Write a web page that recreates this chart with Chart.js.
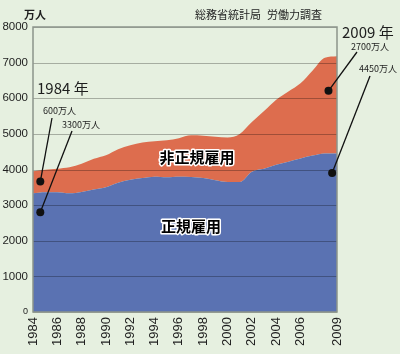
<!DOCTYPE html>
<html>
<head>
<meta charset="utf-8">
<script src="https://cdn.jsdelivr.net/npm/chart.js@4/dist/chart.umd.min.js"></script>
<style>
  html, body { margin: 0; padding: 0; background: #e6f0e0; }
  #wrap { width: 400px; height: 354px; }
</style>
</head>
<body>
<div id="wrap"><canvas id="chart" width="400" height="354"></canvas></div>
<script>
// 労働力調査: 正規 / 非正規 雇用者数 (万人)
const years = [1984, 1985, 1986, 1987, 1988, 1989, 1990, 1991, 1992, 1993, 1994, 1995, 1996,
               1997, 1998, 1999, 2000, 2001, 2002, 2003, 2004, 2005, 2006, 2007, 2008, 2009];
const regular = [3330, 3360, 3360, 3330, 3370, 3440, 3500, 3630, 3710, 3760, 3800, 3780, 3800,
                 3790, 3760, 3700, 3650, 3650, 3940, 4020, 4130, 4220, 4310, 4390, 4450, 4450];
const nonRegular = [620, 630, 660, 730, 790, 860, 900, 940, 970, 1000, 990, 1040, 1080,
                    1170, 1190, 1220, 1250, 1350, 1390, 1620, 1830, 1970, 2110, 2390, 2690, 2730];
const xTickYears = [1984, 1986, 1988, 1990, 1992, 1994, 1996, 1998, 2000, 2002, 2004, 2006, 2009];
const seriesNames = ['正規雇用', '非正規雇用'];

const C = {
    blue: '#5a72b2',
    orange: '#dd6d4e',
    frame: '#8c948a',
    grid: 'rgba(0,0,0,0.28)',
    text: '#1e1e1e',
    fontLatin: "'Liberation Sans', Arial, sans-serif",
    fontJp: "'Noto Sans CJK JP', sans-serif"
};

const toPoints = arr => arr.map((v, i) => ({ x: years[i], y: v }));

// grid lines over the areas + frame
const overlayPlugin = {
    id: 'overlay',
    afterDatasetsDraw(chart) {
        const { ctx, chartArea: a, scales: { y } } = chart;
        ctx.save();
        ctx.strokeStyle = C.grid;
        ctx.lineWidth = 1;
        y.ticks.forEach(t => {
            const py = Math.round(y.getPixelForValue(t.value)) + 0.5;
            ctx.beginPath();
            ctx.moveTo(a.left, py);
            ctx.lineTo(a.right, py);
            ctx.stroke();
        });
        ctx.strokeStyle = C.frame;
        ctx.lineWidth = 1.5;
        ctx.strokeRect(a.left, a.top, a.right - a.left, a.bottom - a.top);
        ctx.restore();
    },
    afterDraw(chart) {
        const { ctx, scales: { x, y } } = chart;
        ctx.save();
        ctx.fillStyle = C.text;
        ctx.textBaseline = 'middle';

        ctx.font = 'bold 11px ' + C.fontJp;
        ctx.fillText('万人', 24, 15);
        ctx.font = '11px ' + C.fontJp;
        ctx.fillText('総務省統計局', 195, 15);
        ctx.fillText('労働力調査', 267, 15);

        ctx.font = '15px ' + C.fontJp;
        ctx.fillText('1984 年', 37, 88);
        ctx.fillText('2009 年', 342, 32);

        ctx.font = '9px ' + C.fontJp;
        ctx.fillText('600万人', 43, 111);
        ctx.fillText('3300万人', 62, 125);
        ctx.fillText('2700万人', 351, 47);
        ctx.fillText('4450万人', 359, 69);

        // pointer lines and dots, placed through the chart scales
        const pointers = [
            { yr: 1984.6, val: 3660, to: [52, 118] },
            { yr: 1984.6, val: 2800, to: [72, 131] },
            { yr: 2008.3, val: 6210, to: [357, 52] },
            { yr: 2008.6, val: 3900, to: [370, 76] }
        ];
        ctx.strokeStyle = '#111';
        ctx.lineWidth = 1.3;
        pointers.forEach(p => {
            const px = x.getPixelForValue(p.yr);
            const py = y.getPixelForValue(p.val);
            ctx.beginPath();
            ctx.moveTo(px, py);
            ctx.lineTo(p.to[0], p.to[1]);
            ctx.stroke();
            ctx.beginPath();
            ctx.arc(px, py, 4, 0, Math.PI * 2);
            ctx.fillStyle = '#111';
            ctx.fill();
        });

        // haloed labels inside the areas
        ctx.font = 'bold 15px ' + C.fontJp;
        ctx.textAlign = 'center';
        ctx.lineJoin = 'round';
        ctx.lineWidth = 3;
        ctx.strokeStyle = '#ffffff';
        ctx.fillStyle = '#000';
        ctx.strokeText(seriesNames[1], 197, 157);
        ctx.fillText(seriesNames[1], 197, 157);
        ctx.strokeText(seriesNames[0], 191, 226);
        ctx.fillText(seriesNames[0], 191, 226);
        ctx.restore();
    }
};

new Chart(document.getElementById('chart'), {
    type: 'line',
    data: {
        datasets: [
            {
                label: seriesNames[0],
                data: toPoints(regular),
                backgroundColor: C.blue,
                borderWidth: 0,
                pointRadius: 0,
                fill: 'origin',
                cubicInterpolationMode: 'monotone'
            },
            {
                label: seriesNames[1],
                data: toPoints(nonRegular),
                backgroundColor: C.orange,
                borderWidth: 0,
                pointRadius: 0,
                fill: '-1',
                cubicInterpolationMode: 'monotone'
            }
        ]
    },
    options: {
        responsive: false,
        animation: false,
        devicePixelRatio: 1,
        layout: { padding: { top: 27, right: 63, left: 0, bottom: 0 } },
        plugins: { legend: { display: false }, tooltip: { enabled: false } },
        scales: {
            x: {
                type: 'linear',
                min: 1984,
                max: 2009,
                afterBuildTicks: s => { s.ticks = xTickYears.map(v => ({ value: v })); },
                afterFit: s => { s.height = 42; },
                grid: { display: false, drawTicks: false, tickLength: 0 },
                border: { display: false },
                ticks: {
                    minRotation: 90,
                    maxRotation: 90,
                    padding: 5,
                    color: C.text,
                    font: { family: C.fontLatin, size: 13 },
                    callback: v => String(v)
                }
            },
            y: {
                stacked: true,
                min: 0,
                max: 8000,
                afterFit: s => { s.width = 33; },
                grid: { display: false, drawTicks: false, tickLength: 0 },
                border: { display: false },
                ticks: {
                    stepSize: 1000,
                    padding: 5,
                    color: C.text,
                    font: ctx => ({ family: C.fontLatin, size: ctx.tick && ctx.tick.value === 0 ? 9 : 11.5 }),
                    callback: v => String(v)
                }
            }
        }
    },
    plugins: [overlayPlugin]
});
</script>
</body>
</html>
